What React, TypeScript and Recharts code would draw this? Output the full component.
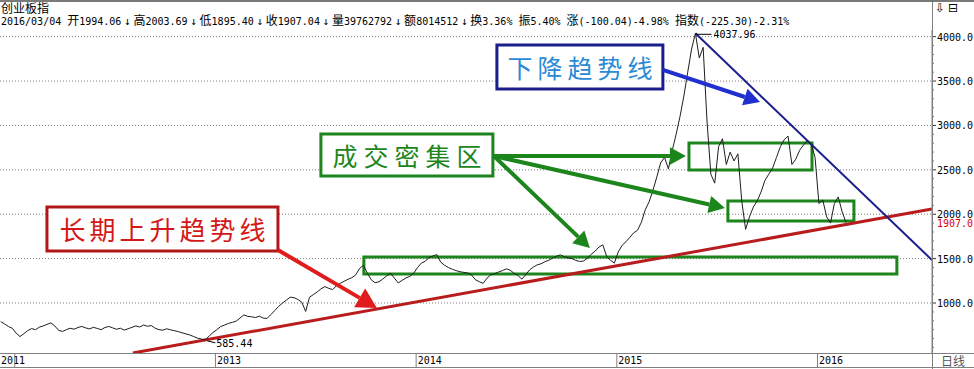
import React from 'react';
import {
  ComposedChart,
  Line,
  XAxis,
  YAxis,
  CartesianGrid,
  ReferenceArea,
  ReferenceLine,
  ReferenceDot,
} from 'recharts';

const close2011 = [790, 765, 735, 715]; // weeks 49-52
const close2012 = [
  660, 622, 655, 690, 712, 700, 728, 742, 760, 776, 742, 692, 680, 700, 716, 705, 724, 736, 720, 708,
  726, 714, 700, 724, 736, 720, 704, 716, 695, 710, 726, 742, 730, 752, 738, 746, 716, 700, 694, 710,
  698, 688, 678, 664, 652, 640, 622, 604, 594, 585.44, 628, 668,
];
const close2013 = [
  700, 735, 752, 770, 782, 796, 830, 866, 850, 845, 836, 852, 830, 826, 870, 915, 962, 1000, 1032, 1066,
  1060, 1040, 1010, 905, 1065, 1095, 1125, 1160, 1185, 1165, 1152, 1195, 1222, 1245, 1268, 1285, 1318,
  1390, 1425, 1335, 1262, 1228, 1240, 1270, 1305, 1335, 1280, 1226, 1255, 1282, 1300, 1335,
];
const close2014 = [
  1400, 1450, 1470, 1515, 1530, 1545, 1460, 1425, 1400, 1380, 1365, 1352, 1345, 1338, 1315, 1262, 1240,
  1222, 1280, 1318, 1330, 1350, 1365, 1385, 1370, 1335, 1312, 1268, 1318, 1372, 1405, 1430, 1442, 1465,
  1482, 1505, 1528, 1542, 1522, 1508, 1500, 1480, 1468, 1472, 1505, 1548, 1585, 1630, 1655, 1525, 1480, 1450,
];
const close2015 = [
  1575, 1650, 1690, 1740, 1790, 1820, 1910, 2050, 2140, 2270, 2420, 2580, 2640, 2510, 2720, 2900, 3100,
  3330, 3600, 3860, 4037.96, 3760, 3880, 3050, 2450, 2350, 2760, 2850, 2560, 2700, 2600, 2680, 2150, 1830,
  1970, 2080, 2150, 2250, 2380, 2450, 2520, 2640, 2760, 2840, 2880, 2560, 2620, 2720, 2780, 2830, 2790, 2640,
];
const close2016 = [2120, 2160, 1970, 1900, 2120, 2195, 2030, 1907.04];

const seriesYears = [2011, 2012, 2013, 2014, 2015, 2016];
const seriesFirstWeek = [48, 0, 0, 0, 0, 0];
const seriesCloses = [close2011, close2012, close2013, close2014, close2015, close2016];

const yearTicks = [2011.93, 2012, 2013, 2014, 2015, 2016];
const yearLabels = ['2011', '', '2013', '2014', '2015', '2016'];
const majorTicks = [1000, 1500, 2000, 2500, 3000, 3500, 4000];

const headerTitle = '创业板指';
const headerQuote =
  '2016/03/04 开1994.06↓高2003.69↓低1895.40↓收1907.04↓量39762792↓额8014512↓换3.36% 振5.40% 涨(-100.04)-4.98% 指数(-225.30)-2.31%';

const data = seriesYears.flatMap((yr, k) =>
  seriesCloses[k].map((c, i) => ({ t: yr + (seriesFirstWeek[k] + i + 0.5) / 52, close: c }))
);

const X_MIN = 2011.929;
const X_MAX = 2016.573;
const Y_MIN = 437;
const Y_MAX = 4075;

const minorTicks: number[] = [];
for (let v = 500; v <= 4000; v += 100) minorTicks.push(v);

const MONO = '"DejaVu Sans Mono", monospace';
const CJK = '"Noto Sans CJK SC", sans-serif';

const BLUE_LINE = '#1a1f8c';
const BLUE_ARROW = '#1f2fd0';
const BLUE_TEXT = '#2a8ad6';
const GREEN = '#1c861c';
const RED_LINE = '#b81c1c';
const RED_ARROW = '#e01c1c';
const RED_TEXT = '#d41818';

// header text: ascii in a 6px mono cell, CJK and arrows in a 12px cell
function Mixed({ text }: { text: string }) {
  const parts = text.match(/↓|[\u3000-\u9fff]+|[^↓\u3000-\u9fff]+/g) || [];
  return (
    <>
      {parts.map((p, i) => {
        if (p === '↓') {
          return (
            <span key={i} style={{ display: 'inline-block', width: 12, fontFamily: MONO, fontSize: 11, textAlign: 'center' }}>
              ↓
            </span>
          );
        }
        if (/[\u3000-\u9fff]/.test(p)) {
          return <span key={i} style={{ fontFamily: CJK, fontSize: 12 }}>{p}</span>;
        }
        return <span key={i} style={{ fontFamily: MONO, fontSize: 10 }}>{p}</span>;
      })}
    </>
  );
}

const XTick = (p: any) => {
  const { x, y, index } = p;
  return (
    <g>
      {index > 0 && <line x1={x + 0.5} y1={y} x2={x + 0.5} y2={y + 14} stroke="#808080" />}
      <text x={index === 0 ? 1 : x + 2} y={y + 11} fontSize={10} fontFamily={MONO} fill="#000">
        {yearLabels[index]}
      </text>
    </g>
  );
};

const YTick = (p: any) => {
  const { x, y, payload } = p;
  if (majorTicks.includes(payload.value)) {
    return (
      <g>
        <line x1={x} y1={y} x2={x + 4} y2={y} stroke="#333" />
        <text x={x + 5} y={y + 4} fontSize={10} fontFamily={MONO} fill="#000">
          {payload.value.toFixed(1)}
        </text>
      </g>
    );
  }
  return <line x1={x} y1={y} x2={x + 2} y2={y} stroke="#777" />;
};

// line with a filled arrow head at the second point
const arrow = (color: string, width: number, head: number) => (p: any) => {
  const { x1, y1, x2, y2 } = p;
  const dx = x2 - x1;
  const dy = y2 - y1;
  const len = Math.hypot(dx, dy) || 1;
  const ux = dx / len;
  const uy = dy / len;
  const bx = x2 - ux * head;
  const by = y2 - uy * head;
  const hw = head * 0.55;
  const pts = `${x2},${y2} ${bx - uy * hw},${by + ux * hw} ${bx + uy * hw},${by - ux * hw}`;
  return (
    <g>
      <line x1={x1} y1={y1} x2={bx} y2={by} stroke={color} strokeWidth={width} />
      <polygon points={pts} fill={color} />
    </g>
  );
};

const boxText = (text: string, color: string, size: number, spacing: number) => (p: any) => {
  const { x, y, width, height } = p.viewBox;
  return (
    <text
      x={x + width / 2 + spacing / 2}
      y={y + height / 2}
      textAnchor="middle"
      dominantBaseline="central"
      fill={color}
      fontSize={size}
      fontFamily={CJK}
      letterSpacing={spacing}
    >
      {text}
    </text>
  );
};

export default function App() {
  const peak = data.reduce((a, b) => (b.close > a.close ? b : a));
  const low = data.reduce((a, b) => (b.close < a.close ? b : a));
  const last = data[data.length - 1];

  return (
    <div style={{ position: 'relative', width: 974, height: 369, background: '#fff', overflow: 'hidden' }}>
      <style>{'body{margin:0}'}</style>
      <ComposedChart width={974} height={369} data={data} margin={{ top: 30, right: 0, bottom: 0, left: 0 }}>
        <CartesianGrid
          horizontal
          vertical={false}
          horizontalValues={majorTicks}
          stroke="#7a7a7a"
          strokeDasharray="1 2"
        />
        <XAxis
          type="number"
          dataKey="t"
          domain={[X_MIN, X_MAX]}
          ticks={yearTicks}
          tick={XTick}
          tickLine={false}
          axisLine={false}
          tickSize={0}
          tickMargin={0}
          interval={0}
          height={16}
          allowDataOverflow
        />
        <YAxis
          type="number"
          orientation="right"
          domain={[Y_MIN, Y_MAX]}
          ticks={minorTicks}
          tick={YTick}
          tickLine={false}
          axisLine={{ stroke: '#808080' }}
          tickSize={0}
          tickMargin={0}
          interval={0}
          width={42}
          allowDataOverflow
        />

        {/* trend lines */}
        <ReferenceLine
          segment={[{ x: 2012.591, y: Y_MIN }, { x: X_MAX, y: 2059 }]}
          stroke={RED_LINE}
          strokeWidth={3}
          ifOverflow="hidden"
        />
        <ReferenceLine
          segment={[{ x: peak.t, y: peak.close }, { x: X_MAX, y: 1484 }]}
          stroke={BLUE_LINE}
          strokeWidth={2}
          ifOverflow="hidden"
        />

        <Line
          type="linear"
          dataKey="close"
          stroke="#1e1e1e"
          strokeWidth={1}
          dot={false}
          isAnimationActive={false}
        />

        {/* 成交密集区 boxes */}
        <ReferenceArea x1={2015.362} x2={2015.975} y1={2498} y2={2803} fill="#fff" fillOpacity={0} stroke={GREEN} strokeWidth={3} ifOverflow="visible" />
        <ReferenceArea x1={2015.556} x2={2016.184} y1={1925} y2={2149} fill="#fff" fillOpacity={0} stroke={GREEN} strokeWidth={3} ifOverflow="visible" />
        <ReferenceArea x1={2013.742} x2={2016.398} y1={1327} y2={1518} fill="#fff" fillOpacity={0} stroke={GREEN} strokeWidth={3} ifOverflow="visible" />

        {/* arrows */}
        <ReferenceLine segment={[{ x: 2015.232, y: 3625 }, { x: 2015.716, y: 3264 }]} shape={arrow(BLUE_ARROW, 4, 16)} ifOverflow="visible" />
        <ReferenceLine segment={[{ x: 2014.39, y: 2656 }, { x: 2015.347, y: 2656 }]} shape={arrow(GREEN, 4, 16)} ifOverflow="visible" />
        <ReferenceLine segment={[{ x: 2014.39, y: 2656 }, { x: 2015.541, y: 2070 }]} shape={arrow(GREEN, 4, 16)} ifOverflow="visible" />
        <ReferenceLine segment={[{ x: 2014.39, y: 2656 }, { x: 2014.868, y: 1620 }]} shape={arrow(GREEN, 4, 16)} ifOverflow="visible" />
        <ReferenceLine segment={[{ x: 2013.314, y: 1597 }, { x: 2013.807, y: 944 }]} shape={arrow(RED_ARROW, 4, 20)} ifOverflow="visible" />

        {/* label boxes */}
        <ReferenceArea x1={2014.405} x2={2015.232} y1={3411} y2={3906} fill="#fff" fillOpacity={1} stroke={BLUE_LINE} strokeWidth={3} ifOverflow="visible" label={boxText('下降趋势线', BLUE_TEXT, 25, 5)} />
        <ReferenceArea x1={2013.528} x2={2014.385} y1={2431} y2={2904} fill="#fff" fillOpacity={1} stroke={GREEN} strokeWidth={3} ifOverflow="visible" label={boxText('成交密集区', GREEN, 25, 6)} />
        <ReferenceArea x1={2012.163} x2={2013.314} y1={1586} y2={2082} fill="#fff" fillOpacity={1} stroke="#b01818" strokeWidth={3} ifOverflow="visible" label={boxText('长期上升趋势线', RED_TEXT, 26, 4)} />

        {/* extreme value marks */}
        <ReferenceDot
          x={peak.t}
          y={peak.close}
          r={0}
          ifOverflow="visible"
          shape={(p: any) => (
            <g>
              <line x1={p.cx + 1} y1={p.cy + 1} x2={p.cx + 16} y2={p.cy + 1} stroke="#000" />
              <text x={p.cx + 18} y={p.cy + 5} fontSize={10} fontFamily={MONO} fill="#000">
                {peak.close.toFixed(2)}
              </text>
            </g>
          )}
        />
        <ReferenceDot
          x={low.t}
          y={low.close}
          r={0}
          ifOverflow="visible"
          shape={(p: any) => (
            <g>
              <line x1={p.cx + 2} y1={p.cy + 1} x2={p.cx + 10} y2={p.cy + 3} stroke="#000" />
              <text x={p.cx + 11} y={p.cy + 7} fontSize={10} fontFamily={MONO} fill="#000">
                {low.close.toFixed(2)}
              </text>
            </g>
          )}
        />
        <ReferenceLine
          y={last.close}
          stroke="none"
          ifOverflow="visible"
          label={(p: any) => (
            <text
              x={p.viewBox.x + p.viewBox.width + 5}
              y={p.viewBox.y + 5}
              fontSize={10}
              fontFamily={MONO}
              fill="#e00000"
            >
              {last.close.toFixed(1)}
            </text>
          )}
        />
      </ComposedChart>

      {/* frame and header */}
      <div style={{ position: 'absolute', left: 0, top: 0, width: 974, height: 2, background: '#7a7a7a' }} />
      <div style={{ position: 'absolute', left: 932, top: 2, width: 1, height: 367, background: '#808080' }} />
      <div style={{ position: 'absolute', left: 0, top: 353, width: 974, height: 1, background: '#808080' }} />
      <div style={{ position: 'absolute', left: 0, top: 367, width: 974, height: 1, background: '#808080' }} />
      <div style={{ position: 'absolute', left: 1, top: 2, height: 12, lineHeight: '12px', whiteSpace: 'pre', color: '#000' }}>
        <Mixed text={headerTitle} />
      </div>
      <div style={{ position: 'absolute', left: 1, top: 14, height: 12, lineHeight: '12px', whiteSpace: 'pre', color: '#000' }}>
        <Mixed text={headerQuote} />
      </div>
      <div style={{ position: 'absolute', left: 935, top: 1, fontFamily: '"DejaVu Sans", sans-serif', fontSize: 12, lineHeight: '14px', color: '#000' }}>
        ⇩<span style={{ marginLeft: 3 }}>⊟</span>
      </div>
      <div style={{ position: 'absolute', left: 941, top: 354, fontFamily: CJK, fontSize: 12, lineHeight: '13px', color: '#555' }}>
        日线
      </div>
    </div>
  );
}
